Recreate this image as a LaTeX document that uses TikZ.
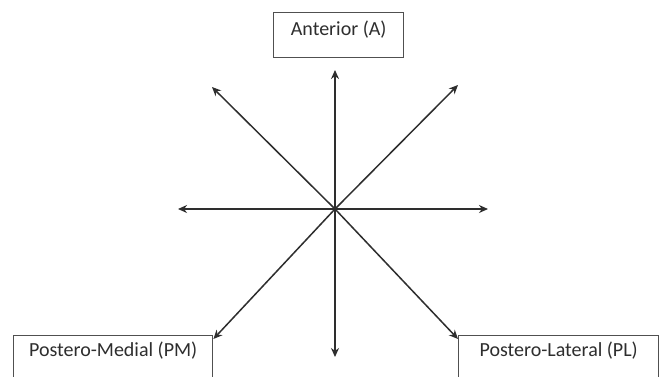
\documentclass[tikz,border=0pt]{standalone}
\usepackage{fontspec}
\setmainfont{Carlito}
\usetikzlibrary{arrows.meta}
\definecolor{ink}{HTML}{2E2E2E}
\definecolor{frame}{HTML}{505050}
\tikzset{
  lbl/.style={draw=frame, line width=1.4pt, text=ink, font=\fontsize{20}{22}\selectfont, inner xsep=0pt, inner ysep=0pt},
  arr/.style={draw=ink, line width=1.5pt, -{Stealth[length=9pt,width=8pt]}}
}
\begin{document}
\begin{tikzpicture}[x=1pt,y=-1pt]
\useasboundingbox (0,0) rectangle (662,376);
\clip (0,0) rectangle (662,376);
\fill[white] (0,0) rectangle (662,376);
\node[lbl, anchor=north west, minimum width=130pt, text height=23pt, text depth=22pt] (ant) at (273,12) {Anterior (A)};
\node[lbl, anchor=north west, minimum width=199pt, text height=21pt, text depth=40pt] (pm) at (13,335) {Postero-Medial (PM)};
\node[lbl, anchor=north west, minimum width=200pt, text height=21pt, text depth=40pt] (pl) at (458,335) {Postero-Lateral (PL)};
\coordinate (c) at (335,209);
\coordinate (up) at (335,70);
\coordinate (dn) at (335,357);
\coordinate (lf) at (178,209);
\coordinate (rt) at (488,209);
\coordinate (ul) at (212,87);
\coordinate (ur) at (458,85);
\draw[arr] (c) -- (up);
\draw[arr] (c) -- (dn);
\draw[arr] (c) -- (lf);
\draw[arr] (c) -- (rt);
\draw[arr] (c) -- (ul);
\draw[arr] (c) -- (ur);
\draw[arr] (c) -- ([yshift=-4pt]pm.north east);
\draw[arr] (c) -- ([yshift=-4pt]pl.north west);
\end{tikzpicture}
\end{document}
